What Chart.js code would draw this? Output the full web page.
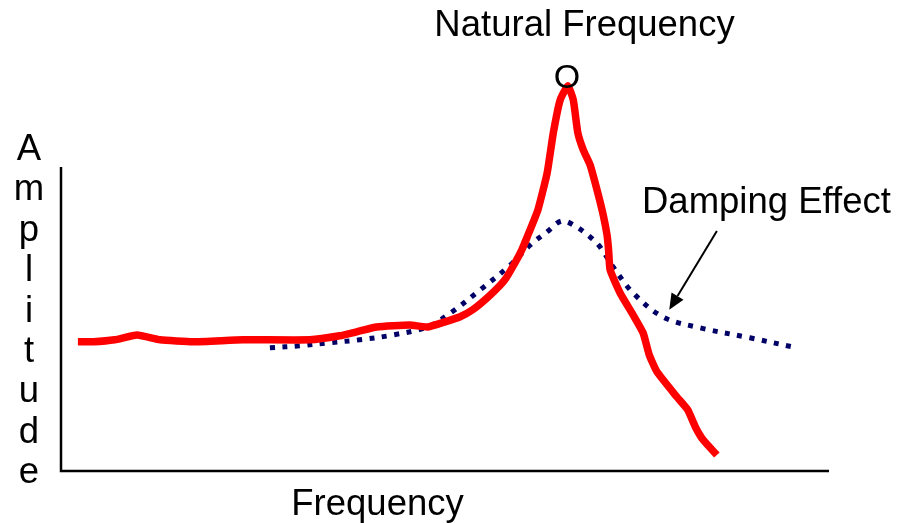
<!DOCTYPE html>
<html>
<head>
<meta charset="utf-8">
<script src="https://cdn.jsdelivr.net/npm/chart.js@4"></script>
<style>
  html, body { margin: 0; padding: 0; background: #ffffff; }
  #wrap { position: relative; width: 913px; height: 523px; }
</style>
</head>
<body>
<div id="wrap"><canvas id="c"></canvas></div>
<script>
// Frequency (0-100, arbitrary units) and amplitude (0-100, arbitrary units)
const undampedFreq = [2.2, 4.2, 7.0, 9.9, 12.9, 17.2, 23.7, 32.4, 36.3, 38.5, 41.1, 45.4, 47.7, 50.0, 51.9, 53.6, 55.9, 57.8, 59.1, 60.0, 60.7, 62.1, 63.3, 64.1, 65.0, 66.0, 66.7, 67.3, 68.0, 68.9, 69.9, 70.6, 71.1, 71.3, 71.5, 72.8, 74.5, 75.8, 76.6, 77.6, 80.2, 81.6, 82.6, 83.6, 85.4];
const undampedAmp  = [32.3, 32.3, 32.8, 34.0, 32.8, 32.3, 32.8, 32.8, 33.8, 34.8, 36.0, 36.5, 36.0, 37.3, 38.5, 40.3, 44.0, 47.8, 52.0, 55.3, 58.5, 65.3, 74.5, 84.5, 92.8, 96.3, 92.8, 84.5, 80.3, 76.5, 69.5, 64.0, 59.0, 55.3, 50.3, 44.5, 39.0, 34.5, 29.0, 24.8, 18.5, 15.3, 11.0, 7.8, 4.0];

const dampedFreq = [27.2, 31.1, 34.6, 38.9, 43.2, 47.7, 50.7, 54.6, 58.5, 61.1, 63.3, 65.2, 66.9, 68.9, 70.2, 71.9, 74.5, 78.4, 83.2, 89.7, 95.8];
const dampedAmp  = [30.8, 31.3, 32.0, 32.8, 34.0, 36.0, 39.5, 45.3, 51.5, 56.5, 59.8, 62.5, 61.3, 58.5, 56.0, 51.0, 44.5, 38.5, 35.8, 33.3, 30.8];

const axisTitleX = "Frequency";
const axisTitleY = "Amplitude";
const peakTitle = "Natural Frequency";
const peakMark = "O";
const dampingLabel = "Damping Effect";
const yAxisTop = 76;       // amplitude where the drawn y axis line ends
const peakFreq = 66.0;     // natural frequency
const arrowFrom = {x: 85.4, y: 60.0};
const arrowTo = {x: 79.2, y: 40.3};

const toPts = (xs, ys) => xs.map((x, i) => ({x: x, y: ys[i]}));

const FONT = "'Liberation Sans', Arial, sans-serif";

const decorations = {
  id: 'decorations',
  afterDatasetsDraw(chart) {
    const ctx = chart.ctx;
    const xs = chart.scales.x, ys = chart.scales.y;
    const x0 = xs.getPixelForValue(0), x1 = xs.getPixelForValue(100);
    const y0 = ys.getPixelForValue(0), yTop = ys.getPixelForValue(yAxisTop);
    ctx.save();
    // axes
    ctx.strokeStyle = '#000';
    ctx.lineWidth = 2.5;
    ctx.lineCap = 'butt';
    ctx.beginPath();
    ctx.moveTo(x0, yTop);
    ctx.lineTo(x0, y0);
    ctx.lineTo(x1, y0);
    ctx.stroke();

    ctx.fillStyle = '#000';
    // x title
    ctx.font = '36.5px ' + FONT;
    ctx.textAlign = 'center';
    ctx.textBaseline = 'alphabetic';
    ctx.fillText(axisTitleX, 377.5, 515);
    // y title (stacked letters)
    const letters = axisTitleY.split('');
    letters.forEach((ch, i) => {
      ctx.fillText(ch, 29, 160 + 40.4 * i);
    });
    // peak title
    ctx.fillText(peakTitle, 584.5, 36);
    // peak mark
    ctx.font = '34px ' + FONT;
    ctx.textBaseline = 'middle';
    ctx.fillText(peakMark, xs.getPixelForValue(peakFreq) - 1, 79);
    // damping label
    ctx.font = '36.5px ' + FONT;
    ctx.textAlign = 'left';
    ctx.textBaseline = 'alphabetic';
    ctx.fillText(dampingLabel, 642, 213);

    // arrow
    const ax = xs.getPixelForValue(arrowFrom.x), ay = ys.getPixelForValue(arrowFrom.y);
    const bx = xs.getPixelForValue(arrowTo.x), by = ys.getPixelForValue(arrowTo.y);
    const ang = Math.atan2(by - ay, bx - ax);
    const headLen = 16, headW = 7;
    const hx = bx - headLen * Math.cos(ang), hy = by - headLen * Math.sin(ang);
    ctx.lineWidth = 2;
    ctx.beginPath();
    ctx.moveTo(ax, ay);
    ctx.lineTo(hx, hy);
    ctx.stroke();
    ctx.beginPath();
    ctx.moveTo(bx, by);
    ctx.lineTo(hx + headW * Math.sin(ang), hy - headW * Math.cos(ang));
    ctx.lineTo(hx - headW * Math.sin(ang), hy + headW * Math.cos(ang));
    ctx.closePath();
    ctx.fill();
    ctx.restore();
  }
};

new Chart(document.getElementById('c'), {
  type: 'line',
  data: {
    datasets: [
      {
        label: 'Damped',
        data: toPts(dampedFreq, dampedAmp),
        borderColor: '#000066',
        borderWidth: 5,
        borderDash: [5, 7.5],
        borderCapStyle: 'butt',
        pointRadius: 0,
        tension: 0.35,
        fill: false,
        clip: false,
        order: 2
      },
      {
        label: 'Undamped',
        data: toPts(undampedFreq, undampedAmp),
        borderColor: '#ff0000',
        borderWidth: 7.5,
        borderJoinStyle: 'round',
        borderCapStyle: 'butt',
        pointRadius: 0,
        tension: 0.15,
        fill: false,
        clip: false,
        order: 1
      }
    ]
  },
  options: {
    responsive: true,
    maintainAspectRatio: false,
    animation: false,
    devicePixelRatio: 1,
    layout: { padding: { left: 61, right: 84, top: 71, bottom: 52 } },
    plugins: { legend: { display: false }, tooltip: { enabled: false }, title: { display: false } },
    scales: {
      x: { type: 'linear', min: 0, max: 100, display: false },
      y: { type: 'linear', min: 0, max: 100, display: false }
    }
  },
  plugins: [decorations]
});
</script>
</body>
</html>
